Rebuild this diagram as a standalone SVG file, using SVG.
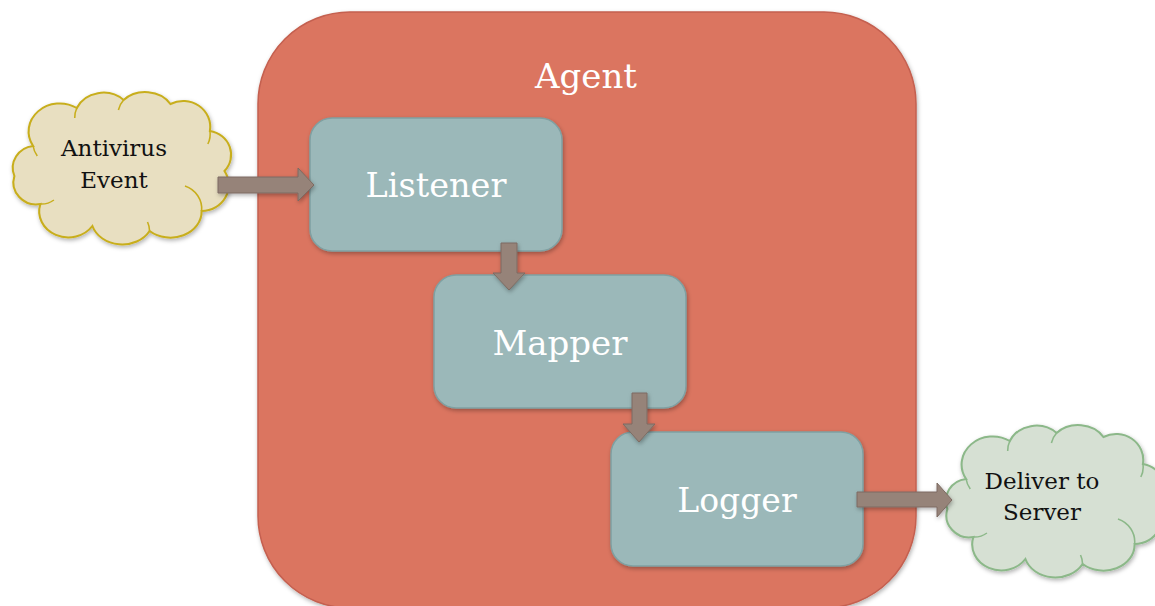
<svg xmlns="http://www.w3.org/2000/svg" width="1155" height="606" viewBox="0 0 1155 606">
<defs>
<filter id="sh" x="-10%" y="-10%" width="130%" height="130%"><feDropShadow dx="1" dy="2" stdDeviation="2" flood-color="#000" flood-opacity="0.3"/></filter>
<path id="cloud" d="M 28,60 A 30,28 0 0 1 70,22 A 28,26 0 0 1 115,14 A 28,24 0 0 1 160,18 A 26,26 0 0 1 198,45 A 24,24 0 0 1 212,85 A 26,26 0 0 1 190,125 A 30,26 0 0 1 140,145 A 30,26 0 0 1 85,140 A 28,26 0 0 1 35,118 A 22,22 0 0 1 10,90 A 22,22 0 0 1 28,60 Z"/>
<path id="inner" d="M 28,60 A 22,22 0 0 0 32,70 M 70,22 A 24,24 0 0 0 68,32 M 115,14 A 22,22 0 0 0 110,24 M 198,45 A 22,22 0 0 1 196,58 M 190,125 A 24,24 0 0 0 174,100 M 140,145 A 22,22 0 0 0 138,136 M 35,118 A 20,20 0 0 0 48,114"/>
</defs>
<style>
.box{fill:#9BB8B9;stroke:#7FA0A2;stroke-width:1.5;filter:url(#sh)}
.arr{fill:#968379;stroke:#7C6B62;stroke-width:1;filter:url(#sh)}
.w{font-family:"DejaVu Serif","Liberation Serif",serif;fill:#fff;text-anchor:middle}
.k{font-family:"DejaVu Serif","Liberation Serif",serif;fill:#111;text-anchor:middle;font-size:23px}
.inner{fill:none;stroke-width:1.5}
</style>
<rect width="1155" height="606" fill="#fff"/>
<g id="agent">
<rect x="258" y="12" width="658" height="596" rx="92" ry="92" fill="#DB7461" stroke="#C4604F" stroke-width="1.5" filter="url(#sh)"/>
<text class="w" x="586" y="88" font-size="34">Agent</text>
</g>
<g id="antivirus-event">
<g transform="translate(4,86) scale(1.04,1)" filter="url(#sh)">
<use href="#cloud" fill="#E8DFC1" stroke="#C8AE1E" stroke-width="2"/>
<use href="#inner" class="inner" stroke="#C8AE1E"/>
</g>
<text class="k" x="114" y="156">Antivirus</text>
<text class="k" x="114" y="188">Event</text>
</g>
<g id="listener">
<rect class="box" x="310" y="118" width="252" height="133" rx="22"/>
<text class="w" x="436" y="197" font-size="33.5">Listener</text>
</g>
<g id="mapper">
<rect class="box" x="434" y="275" width="252" height="133" rx="22"/>
<text class="w" x="560" y="355" font-size="34">Mapper</text>
</g>
<g id="logger">
<rect class="box" x="611" y="432" width="252" height="134" rx="22"/>
<text class="w" x="737" y="512" font-size="33">Logger</text>
</g>
<g id="deliver-to-server">
<g transform="translate(937,419) scale(1.04,1)" filter="url(#sh)">
<use href="#cloud" fill="#D6E0D3" stroke="#8CB889" stroke-width="2"/>
<use href="#inner" class="inner" stroke="#8CB889"/>
</g>
<text class="k" x="1042" y="489">Deliver to</text>
<text class="k" x="1042" y="520">Server</text>
</g>
<g id="connectors">
<polygon class="arr" points="218,177 298,177 298,168 314,185 298,201 298,193 218,193"/>
<polygon class="arr" points="501,243 517,243 517,273 525,273 509,290 493,273 501,273"/>
<polygon class="arr" points="632,393 647,393 647,424 655,424 639,442 623,424 632,424"/>
<polygon class="arr" points="857,492 937,492 937,483 952,500 937,517 937,507 857,507"/>
</g>
</svg>
